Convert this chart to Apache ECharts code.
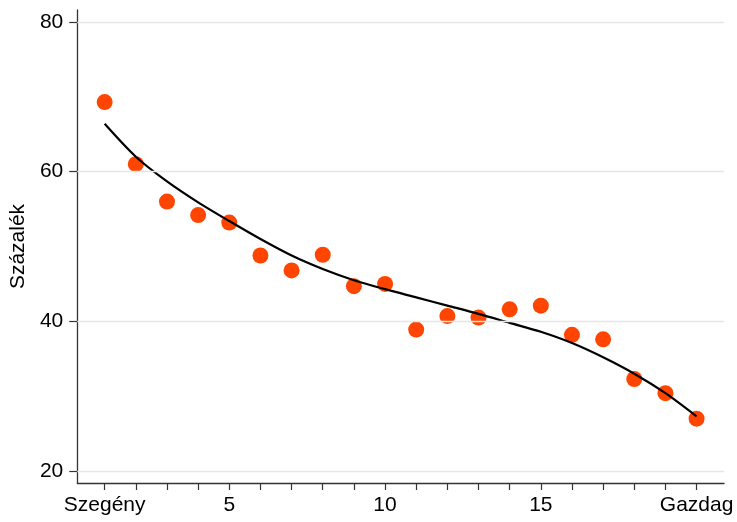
<!DOCTYPE html>
<html>
<head>
<meta charset="utf-8">
<script src="https://cdn.jsdelivr.net/npm/echarts@6/dist/echarts.min.js"></script>
<style>html,body{margin:0;padding:0;background:#fff;}#c{width:737px;height:522px;}</style>
</head>
<body>
<div id="c"></div>
<script>
const groups = [1,2,3,4,5,6,7,8,9,10,11,12,13,14,15,16,17,18,19,20];
const observed = [69.3,61.0,56.0,54.2,53.2,48.8,46.8,48.9,44.7,45.0,38.9,40.7,40.5,41.6,42.1,38.2,37.6,32.3,30.4,27.0];
const fitted = [66.4,62.0,58.7,55.9,53.4,51.0,48.8,47.0,45.5,44.3,43.2,42.1,41.0,39.8,38.6,37.1,35.2,33.0,30.4,27.3];
const xTickValues = [1,5,10,15,20];
const xTickLabels = {1:'Szegény',5:'5',10:'10',15:'15',20:'Gazdag'};
const yTickValues = [20,40,60,80];
const yTitle = 'Százalék';

const font = 'Liberation Sans, Arial, sans-serif';
const chart = echarts.init(document.getElementById('c'), null, {renderer:'canvas'});
chart.setOption({
  animation:false,
  backgroundColor:'#fff',
  grid:{left:77,right:13,top:10,bottom:39,containLabel:false},
  xAxis:{
    type:'value', min:0.12, max:20.88,
    axisLine:{show:true,onZero:false,lineStyle:{color:'#333',width:1.3}},
    axisTick:{show:true,length:7,customValues:groups,lineStyle:{color:'#333',width:1.2}},
    axisLabel:{customValues:xTickValues,margin:12,fontSize:21,color:'#000',fontFamily:font,
      formatter:v=>xTickLabels[v]||String(v)},
    splitLine:{show:false}
  },
  yAxis:{
    type:'value', min:18.4, max:81.6,
    name:yTitle, nameLocation:'middle', nameGap:42, nameRotate:90,
    nameTextStyle:{fontSize:21,color:'#000',fontFamily:font},
    axisLine:{show:true,onZero:false,lineStyle:{color:'#333',width:1.3}},
    axisTick:{show:true,length:8,customValues:yTickValues,lineStyle:{color:'#333',width:1.2}},
    axisLabel:{customValues:yTickValues,margin:14,fontSize:21,color:'#000',fontFamily:font},
    splitLine:{show:false}
  },
  series:[
    {type:'line', data:[], silent:true,
     markLine:{silent:true,symbol:'none',label:{show:false},
       lineStyle:{color:'#e6e6e6',width:1.3,type:'solid'},
       data:yTickValues.map(v=>({yAxis:v}))}},
    {type:'line', data:groups.map((g,i)=>[g,fitted[i]]), symbol:'none', smooth:0.3,
     lineStyle:{color:'#000',width:2.2}, z:3},
    {type:'scatter', data:groups.map((g,i)=>[g,observed[i]]), symbol:'circle', symbolSize:16,
     itemStyle:{color:'#FF4500',opacity:1}, z:2}
  ]
});
</script>
</body>
</html>
